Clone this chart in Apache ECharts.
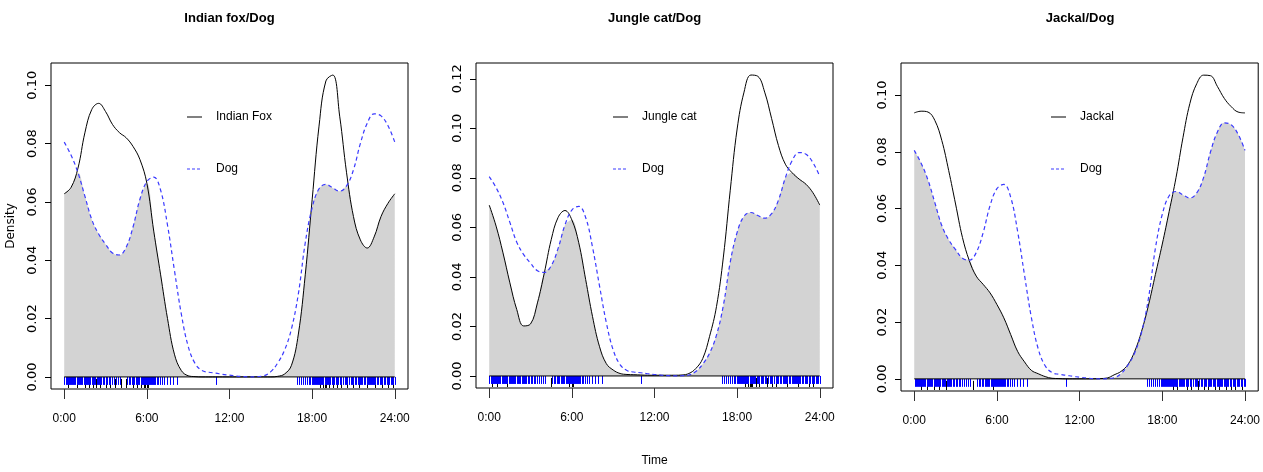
<!DOCTYPE html>
<html>
<head>
<meta charset="utf-8">
<script src="https://cdn.jsdelivr.net/npm/echarts@6/dist/echarts.min.js"></script>
<style>
  html, body { margin: 0; padding: 0; background: #ffffff; }
  #chart { width: 1263px; height: 472px; }
</style>
</head>
<body>
<div id="chart"></div>
<script>
// activity density curves, every half hour
var hours = [0, 0.5, 1, 1.5, 2, 2.5, 3, 3.5, 4, 4.5, 5, 5.5, 6, 6.5, 7, 7.5, 8, 8.5, 9, 9.5,
  10, 10.5, 11, 11.5, 12, 12.5, 13, 13.5, 14, 14.5, 15, 15.5, 16, 16.5, 17, 17.5, 18, 18.5, 19, 19.5,
  20, 20.5, 21, 21.5, 22, 22.5, 23, 23.5, 24];

var dog = [0.0805, 0.076, 0.070, 0.062, 0.054, 0.049, 0.0455, 0.0425, 0.0418, 0.0445, 0.0515, 0.061, 0.067, 0.0685, 0.064, 0.052, 0.0366, 0.0216, 0.0105, 0.0046,
  0.0022, 0.0016, 0.0013, 0.0009, 0.0006, 0.0003, 0.0001, 0.0000, 0.0001, 0.0004, 0.0018, 0.0048, 0.0092, 0.0165, 0.0285, 0.046, 0.058, 0.0645, 0.066, 0.0648,
  0.0637, 0.0655, 0.071, 0.080, 0.087, 0.0902, 0.0895, 0.0862, 0.0805];

var indianFox = [0.0628, 0.065, 0.0716, 0.0837, 0.0917, 0.0938, 0.091, 0.0866, 0.0838, 0.082, 0.079, 0.0745, 0.0664, 0.050, 0.035, 0.020, 0.0078, 0.0022, 0.0004, 0.0001,
  0, 0, 0, 0, 0, 0, 0, 0, 0, 0, 0, 0.0002, 0.001, 0.004, 0.0147, 0.035, 0.0607, 0.086, 0.1015, 0.1035,
  0.0894, 0.070, 0.055, 0.047, 0.0442, 0.048, 0.055, 0.0595, 0.0628];

var jungleCat = [0.069, 0.0605, 0.0497, 0.0376, 0.0268, 0.0202, 0.021, 0.0295, 0.0416, 0.055, 0.064, 0.0668, 0.063, 0.0538, 0.039, 0.024, 0.012, 0.005, 0.0024, 0.001,
  0.0006, 0.0005, 0.0004, 0.0003, 0.0003, 0.0003, 0.0003, 0.0003, 0.0004, 0.001, 0.003, 0.007, 0.016, 0.028, 0.048, 0.075, 0.0997, 0.1146, 0.1215, 0.121,
  0.1146, 0.104, 0.093, 0.0855, 0.082, 0.0795, 0.0774, 0.074, 0.069];

var jackal = [0.0937, 0.0943, 0.094, 0.091, 0.084, 0.0734, 0.0616, 0.0498, 0.0416, 0.0362, 0.0333, 0.0303, 0.0262, 0.0215, 0.0156, 0.0097, 0.006, 0.003, 0.0018, 0.0008,
  0.0002, 0.0001, 0, 0, 0, 0, 0, 0.0001, 0.0003, 0.0014, 0.0026, 0.005, 0.0097, 0.0168, 0.026, 0.0368, 0.0475, 0.059, 0.071, 0.085,
  0.097, 0.104, 0.107, 0.1068, 0.103, 0.0988, 0.0959, 0.094, 0.0937];

// detection times (rug marks), hours
var dogTimes = [0.02, 0.1, 0.18, 0.25, 0.33, 0.42, 0.5, 0.58, 0.66, 0.72, 0.8, 0.9, 0.98, 1.05, 1.15, 1.22, 1.3, 1.4, 1.48, 1.55,
  1.65, 1.72, 1.8, 1.9, 2.0, 2.08, 2.15, 2.25, 2.35, 2.42, 2.5, 2.6, 2.7, 2.8, 2.92, 3.0, 3.12, 3.25, 3.35, 3.5,
  3.62, 3.75, 3.9, 4.02, 4.55, 4.68, 4.8, 4.9, 5.0, 5.1, 5.2, 5.3, 5.38, 5.45, 5.55, 5.62, 5.7, 5.78, 5.85, 5.92,
  6.0, 6.08, 6.15, 6.22, 6.3, 6.38, 6.45, 6.52, 6.6, 6.7, 6.8, 6.95, 7.1, 7.25, 7.45, 7.65, 7.9, 8.2, 11.0,
  16.9, 17.05, 17.2, 17.35, 17.5, 17.62, 17.75, 17.88, 18.0, 18.08, 18.15, 18.22, 18.3, 18.36, 18.42, 18.5, 18.56, 18.62, 18.7, 18.76,
  18.82, 18.9, 18.96, 19.02, 19.1, 19.18, 19.25, 19.33, 19.42, 19.5, 19.6, 19.7, 19.8, 19.9, 20.0, 20.1, 20.22, 20.35, 20.45, 20.55,
  20.68, 20.8, 20.9, 21.0, 21.1, 21.2, 21.3, 21.4, 21.48, 21.55, 21.65, 21.75, 21.85, 21.95, 22.05, 22.12, 22.2, 22.28, 22.36, 22.45,
  22.52, 22.6, 22.7, 22.8, 22.9, 23.0, 23.1, 23.2, 23.3, 23.4, 23.5, 23.6, 23.7, 23.8, 23.9, 24.0];
var foxTimes = [0.3, 0.9, 1.5, 1.8, 2.1, 2.3, 2.6, 3.0, 3.3, 3.7, 4.1, 4.5, 5.0, 5.3, 5.6, 5.8, 5.9, 6.0, 6.1,
  18.6, 18.8, 18.9, 19.0, 19.2, 19.5, 19.8, 20.1, 20.5, 21.0, 21.4, 22.0, 22.6, 23.1, 23.5, 23.9];
var catTimes = [0.2, 0.6, 1.3, 4.5, 5.8, 6.0, 6.05,
  18.6, 18.8, 18.9, 19.0, 19.1, 19.4, 19.6, 20.2, 20.5, 20.8, 21.6, 22.4, 23.2, 23.5];
var jackalTimes = [0.5, 0.9, 1.4, 1.8, 2.3, 4.3, 5.7,
  18.8, 19.1, 19.8, 20.1, 20.6, 21.0, 21.3, 21.8, 22.1, 22.6, 23.0, 23.3, 23.8];

var xTicks = [0, 6, 12, 18, 24];
var yTicksA = [0, 0.02, 0.04, 0.06, 0.08, 0.10];
var yTicksB = [0, 0.02, 0.04, 0.06, 0.08, 0.10, 0.12];

var NARROW = "'Liberation Sans Narrow', 'Liberation Sans', Arial, sans-serif";
var WIDE = "'DejaVu Sans', Verdana, sans-serif";

// legend icons: a solid stroke and a dashed stroke
var SOLID_ICON = 'path://M0,0H15V1H0Z';
var DASH_ICON = 'path://M0,0H3V1H0Z M5,0H8V1H5Z M10,0H13V1H10Z M15,0H15.01V1H15Z';

var panels = [
  { title: 'Indian fox/Dog', name: 'Indian Fox', values: indianFox, times: foxTimes, yTicks: yTicksA,
    grid: { left: 51, top: 63, width: 357, height: 326 }, legendLeft: 182 },
  { title: 'Jungle cat/Dog', name: 'Jungle cat', values: jungleCat, times: catTimes, yTicks: yTicksB,
    grid: { left: 476, top: 63, width: 357, height: 325 }, legendLeft: 608 },
  { title: 'Jackal/Dog', name: 'Jackal', values: jackal, times: jackalTimes, yTicks: yTicksA,
    grid: { left: 901, top: 63, width: 358, height: 328 }, legendLeft: 1046 }
];

function rugRender(color, startPx, toBottom) {
  return function (params, api) {
    var p = api.coord([api.value(0), 0]);
    var x = Math.round(p[0]) + 0.5;
    var y2 = p[1] + 8;
    if (toBottom) {
      var rect = params.coordSys;
      y2 = rect.y + rect.height - 1;
    }
    return {
      type: 'line',
      shape: { x1: x, y1: p[1] + startPx, x2: x, y2: y2 },
      style: { stroke: color, lineWidth: 1 }
    };
  };
}

var grids = [], xAxes = [], yAxes = [], series = [], legends = [], graphics = [];
var span = hours[hours.length - 1] - hours[0];

panels.forEach(function (p, i) {
  var ymax = Math.max(Math.max.apply(null, p.values), Math.max.apply(null, dog));
  grids.push({ left: p.grid.left, top: p.grid.top, width: p.grid.width, height: p.grid.height,
    show: true, borderColor: '#000', borderWidth: 1, backgroundColor: 'transparent' });

  xAxes.push({
    type: 'value', gridIndex: i,
    min: hours[0] - 0.04 * span, max: hours[hours.length - 1] + 0.04 * span,
    axisLine: { show: false, onZero: false },
    splitLine: { show: false },
    axisTick: { show: true, customValues: xTicks, length: 10, lineStyle: { color: '#333', width: 1 } },
    axisLabel: { customValues: xTicks, margin: 24, color: '#000', fontFamily: NARROW, fontSize: 12,
      formatter: function (v) { return v + ':00'; } },
    name: i === 1 ? 'Time' : '',
    nameLocation: 'middle', nameGap: 67,
    nameTextStyle: { color: '#000', fontFamily: NARROW, fontSize: 12 }
  });

  yAxes.push({
    type: 'value', gridIndex: i,
    min: -0.04 * ymax, max: 1.04 * ymax,
    axisLine: { show: false, onZero: false },
    splitLine: { show: false },
    axisTick: { show: true, customValues: p.yTicks, length: 6, lineStyle: { color: '#000', width: 1 } },
    axisLabel: { customValues: p.yTicks, rotate: 90, margin: 12, color: '#000', fontFamily: WIDE, fontSize: 13,
      formatter: function (v) { return v.toFixed(2); } },
    name: i === 0 ? 'Density' : '',
    nameLocation: 'middle', nameGap: 34, nameRotate: 90,
    nameTextStyle: { color: '#000', fontFamily: WIDE, fontSize: 12 }
  });

  var overlap = hours.map(function (h, k) { return [h, Math.min(p.values[k], dog[k])]; });

  series.push({
    type: 'line', name: 'overlap', xAxisIndex: i, yAxisIndex: i, data: overlap,
    smooth: 0.4, symbol: 'none', silent: true,
    lineStyle: { width: 0 }, areaStyle: { color: '#d3d3d3', opacity: 1 }
  });
  series.push({
    type: 'custom', name: 'rug-' + p.name, xAxisIndex: i, yAxisIndex: i, silent: true,
    data: p.times.map(function (t) { return [t]; }), encode: { x: 0 },
    renderItem: rugRender('#000', 2, true)
  });
  series.push({
    type: 'custom', name: 'rug-dog', xAxisIndex: i, yAxisIndex: i, silent: true,
    data: dogTimes.map(function (t) { return [t]; }), encode: { x: 0 },
    renderItem: rugRender('#0000ff', 0, false)
  });
  series.push({
    type: 'line', name: 'baseline', xAxisIndex: i, yAxisIndex: i, silent: true,
    data: [[hours[0], 0], [hours[hours.length - 1], 0]], symbol: 'none',
    lineStyle: { color: '#000', width: 1 }
  });
  series.push({
    type: 'line', name: p.name, xAxisIndex: i, yAxisIndex: i,
    data: hours.map(function (h, k) { return [h, p.values[k]]; }),
    smooth: 0.4, symbol: 'none', lineStyle: { color: '#000', width: 1 }, itemStyle: { color: '#000' }
  });
  series.push({
    type: 'line', name: 'Dog', xAxisIndex: i, yAxisIndex: i,
    data: hours.map(function (h, k) { return [h, dog[k]]; }),
    smooth: 0.4, symbol: 'none', lineStyle: { color: '#3a3aff', width: 1.2, type: [4, 3] }, itemStyle: { color: '#3a3aff' }
  });

  legends.push({
    left: p.legendLeft, top: 106, orient: 'vertical', selectedMode: false,
    data: [{ name: p.name, icon: SOLID_ICON }, { name: 'Dog', icon: DASH_ICON }],
    itemWidth: 15, itemHeight: 14, itemGap: 40,
    textStyle: { color: '#000', fontFamily: NARROW, fontSize: 12, padding: [0, 0, 0, 9] }
  });

  graphics.push({
    type: 'text', x: p.grid.left + p.grid.width / 2, y: 18,
    style: { text: p.title, font: 'bold 13px ' + NARROW, fill: '#000', textAlign: 'center', textVerticalAlign: 'middle' }
  });
});

var chart = echarts.init(document.getElementById('chart'), null, { renderer: 'canvas' });
chart.setOption({
  backgroundColor: '#ffffff',
  animation: false,
  grid: grids,
  xAxis: xAxes,
  yAxis: yAxes,
  legend: legends,
  graphic: graphics,
  series: series
});
</script>
</body>
</html>
